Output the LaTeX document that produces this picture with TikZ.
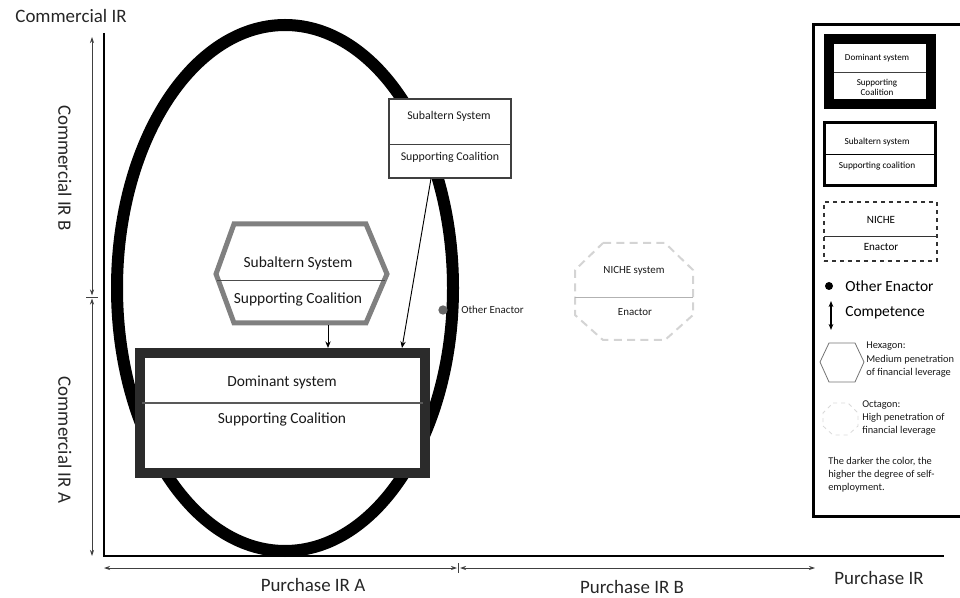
\documentclass[tikz,border=0pt]{standalone}
\usepackage{fontspec}
\setmainfont{Carlito}
\usetikzlibrary{arrows.meta,calc}

\begin{document}
\begin{tikzpicture}[x=0.75pt, y=-0.75pt,
    biglabel/.style={font=\fontsize{14.2}{17}\selectfont, text=black!85},
    boxtext/.style={font=\fontsize{11.6}{14}\selectfont, text=black!90},
    smalltext/.style={font=\fontsize{8.2}{10}\selectfont, text=black!90},
    legtext/.style={font=\fontsize{7.8}{9.8}\selectfont, text=black!90, align=left, anchor=north west, inner sep=0pt},
    dimarrow/.style={draw=black!75, line width=0.6pt, {Stealth[length=4.5pt,width=3pt]}-{Stealth[length=4.5pt,width=3pt]}},
    link/.style={draw=black, line width=0.7pt, -{Stealth[length=5pt,width=4pt]}},
    divider/.style={draw=black!65, line width=0.9pt},
    dombox/.style={draw=black!83, fill=white, line width=7.5pt, inner sep=0pt},
    subbox/.style={draw=black!75, fill=white, line width=0.8pt, inner sep=0pt}]
    \useasboundingbox (0,0) rectangle (960,598);
    \clip (0,0) rectangle (960,598);
    % axes
    \draw[line width=1.5pt] (104,33) |- (944,556);
    \coordinate (ytop) at (92,37);
    \coordinate (ymid) at (92,297);
    \coordinate (ybot) at (92,556);
    \draw[dimarrow] (ytop) -- ($(ymid)+(0,-1.5)$);
    \draw[dimarrow] ($(ymid)+(0,1.5)$) -- (ybot);
    \draw[black!75, line width=0.6pt] ($(ymid)+(-6,0)$) -- ($(ymid)+(6,0)$);
    \coordinate (xleft) at (104,568);
    \coordinate (xmid) at (458.5,568);
    \coordinate (xright) at (815,568);
    \draw[dimarrow] (xleft) -- ($(xmid)+(-1.5,0)$);
    \draw[dimarrow] ($(xmid)+(1.5,0)$) -- (xright);
    \draw[black!75, line width=0.6pt] ($(xmid)+(0,-5)$) -- ($(xmid)+(0,5)$);
    \node (cir) [biglabel] at (71,16) {Commercial IR};
    \node (cirb) [biglabel, rotate=-90] at (65,168) {Commercial IR B};
    \node (cira) [biglabel, rotate=-90] at (65,440) {Commercial IR A};
    \node (pira) [biglabel] at (313,585) {Purchase IR A};
    \node (pirb) [biglabel] at (632,587) {Purchase IR B};
    \node (pir) [biglabel] at (879,578) {Purchase IR};

    % big ellipse
    \draw[line width=9pt] (285,288) ellipse [x radius=168, y radius=263];

    % dominant system
    \node (dom) [dombox, minimum width=213.75pt, minimum height=90pt] at (282.5,413) {};
    \node (domtop) [boxtext] at (282,382) {Dominant system};
    \node (dombot) [boxtext] at (282,419) {Supporting Coalition};
    \draw[divider] (142,403) -- (423,403);

    % hexagon
    \draw[draw=black!50, fill=white, line width=3.75pt] (216,274) -- (234,224) -- (366,224) -- (387,274) -- (366,323) -- (234,323) -- cycle;
    \coordinate (hexbase) at (301,325.5);
    \node (hextop) [boxtext] at (298,263) {Subaltern System};
    \node (hexbot) [boxtext] at (298,299) {Supporting Coalition};
    \draw[draw=black!70, line width=0.6pt] (217,280) -- (385,280);

    % subaltern box
    \node (sub) [subbox, minimum width=91.5pt, minimum height=59.25pt] at (450,138.5) {};
    \node (subtop) [smalltext, font=\fontsize{8.9}{11}\selectfont] at (449,116) {Subaltern System};
    \node (subbot) [smalltext, font=\fontsize{8.9}{11}\selectfont] at (450,157) {Supporting Coalition};
    \draw[black!75, line width=0.6pt] (389,144) -- (511,144);

    \draw[link] ($(hexbase)+(27,0)$) -- ($(dom.north)+(45.5,0)$);
    \draw[link] ($(sub.south)+(-19,0)$) -- ($(dom.north)+(119.5,0)$);

    % other enactor
    \node (oth) [circle, fill=black!60, minimum size=7pt, inner sep=0pt] at (443,310) {};
    \node (othtext) [smalltext, anchor=west, inner sep=0pt] at (461,310) {Other Enactor};

    % niche octagon
    \draw[draw=black!17, line width=1.5pt, dash pattern=on 6pt off 4pt] (603,243) -- (665,243) -- (693,270) -- (693,315) -- (665,340) -- (603,340) -- (575,315) -- (575,270) -- cycle;
    \draw[black!30, line width=0.6pt] (575,297) -- (693,297);
    \node (nichetop) [smalltext] at (634,271) {NICHE system};
    \node (nichebot) [smalltext] at (635,312) {Enactor};

    % legend
    \draw[line width=2.25pt] (813,25) rectangle (966,516);
    \node (legdom) [draw=black, line width=7.5pt, inner sep=0pt, minimum width=76.5pt, minimum height=48.75pt] at (880,71.5) {};
    \draw[black!75, line width=0.5pt] (834,72) -- (926,72);
    \node (legdomtop) [font=\fontsize{6.8}{8}\selectfont] at (877,58) {Dominant system};
    \node (legdombot) [font=\fontsize{6.8}{7.6}\selectfont, align=center] at (877,87) {Supporting\\Coalition};
    \node (legsub) [draw=black, line width=2.25pt, inner sep=0pt, minimum width=83.25pt, minimum height=47.25pt] at (879.5,154.5) {};
    \draw[black, line width=0.6pt] (823,154) -- (935,154);
    \node (legsubtop) [font=\fontsize{7}{8}\selectfont] at (877,142) {Subaltern system};
    \node (legsubbot) [font=\fontsize{7}{8}\selectfont] at (877,166) {Supporting coalition};
    \node (legniche) [draw=black!80, dashed, line width=0.8pt, inner sep=0pt, minimum width=84.75pt, minimum height=44.25pt] at (880.5,231.5) {};
    \draw[black!80, line width=0.6pt] (824,236) -- (937,236);
    \node (legnichetop) [font=\fontsize{8.3}{10}\selectfont] at (881,220) {NICHE};
    \node (legnichebot) [font=\fontsize{8.3}{10}\selectfont] at (881,247) {Enactor};
    \node (legdot) [circle, fill=black, minimum size=6pt, inner sep=0pt] at (829,286) {};
    \node (legdottext) [font=\fontsize{11.6}{14}\selectfont, anchor=west, inner sep=0pt] at (845,286) {Other Enactor};
    \coordinate (comptop) at (831,301);
    \coordinate (compbot) at (831,330);
    \draw[black, line width=0.8pt, {Stealth[length=4.5pt,width=3.5pt]}-{Stealth[length=4.5pt,width=3.5pt]}] (comptop) -- (compbot);
    \node (comptext) [font=\fontsize{11.6}{14}\selectfont, anchor=west, inner sep=0pt] at (845,313) {Competence};
    \draw[black!55, line width=0.6pt] (820,362) -- (829,343) -- (855,343) -- (864,362) -- (855,382) -- (829,382) -- cycle;
    \node (hexnote) [legtext] at (866,342) {Hexagon:\\Medium penetration\\of financial leverage};
    \draw[black!15, line width=0.6pt, dashed] (833,403) -- (848,403) -- (858,413) -- (858,426) -- (848,435) -- (833,435) -- (823,426) -- (823,413) -- cycle;
    \node (octnote) [legtext] at (862,400) {Octagon:\\High penetration of\\financial leverage};
    \node (darknote) [legtext] at (828,457) {The darker the color, the\\higher the degree of self-\\employment.};
\end{tikzpicture}
\end{document}
